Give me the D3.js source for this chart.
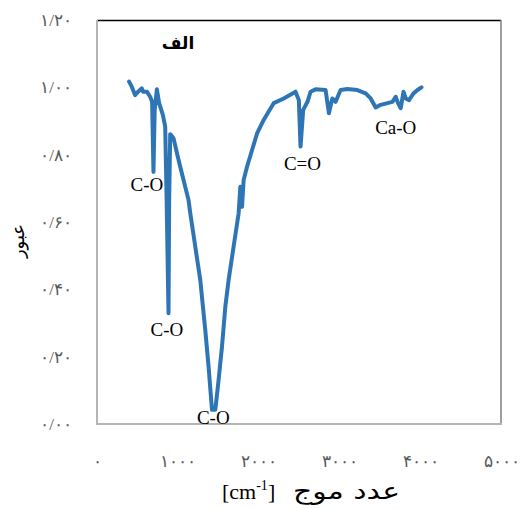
<!DOCTYPE html>
<html>
<head>
<meta charset="utf-8">
<script src="https://cdn.jsdelivr.net/npm/d3@7"></script>
<style>
html,body{margin:0;padding:0;background:#fff;}
svg{display:block;}
</style>
</head>
<body>
<svg id="chart" width="522" height="509"></svg>
<script>
// ---- data ----
const wavenumber = [397,430,471,509,555,571,617,658,682,699,714,741,769,815,844,862,885,893,906,947,989,1030,1071,1133,1154,1216,1278,1340,1381,1423,1464,1505,1547,1588,1629,1691,1753,1774,1795,1815,1857,1919,1981,2063,2125,2187,2311,2457,2498,2519,2552,2605,2643,2705,2829,2870,2912,2953,3015,3098,3222,3325,3387,3449,3511,3594,3656,3697,3726,3759,3793,3821,3862,3917,3966,4016];
const transmittance = [1.017,1.002,0.977,0.987,0.997,0.987,0.987,0.972,0.957,0.749,0.933,0.994,0.953,0.918,0.883,0.665,0.329,0.665,0.861,0.849,0.805,0.764,0.725,0.665,0.627,0.527,0.428,0.279,0.170,0.042,0.042,0.131,0.230,0.348,0.428,0.527,0.626,0.705,0.645,0.725,0.764,0.814,0.863,0.903,0.928,0.953,0.967,0.987,0.962,0.824,0.933,0.957,0.987,0.994,0.992,0.923,0.967,0.957,0.992,0.995,0.992,0.982,0.967,0.940,0.948,0.953,0.957,0.972,0.953,0.938,0.987,0.967,0.962,0.982,0.992,1.000];
const xTicks = [0,1000,2000,3000,4000,5000];
const yTicks = [0,0.2,0.4,0.6,0.8,1.0,1.2];
const annotationLabels = ["C-O","C-O","C-O","C=O","Ca-O"];
const annotationX = [617,865,1439,2543,3697];
const annotationY = [0.692,0.261,0.0,0.754,0.861];
const panelLabel = "الف";
const yTitle = "عبور";
const xTitleArabic = "عدد موج";

const toPersian = s => String(s).replace(/[0-9]/g, d => "۰۱۲۳۴۵۶۷۸۹"[+d]).replace(".", "/");

const svg = d3.select("#chart");
const L = 97, R = 501, T = 20, B = 424;
const x = d3.scaleLinear().domain([0,5000]).range([L,R]);
const y = d3.scaleLinear().domain([0,1.2]).range([B,T]);

// frame
svg.append("line").attr("x1",L).attr("x2",R).attr("y1",T+0.5).attr("y2",T+0.5).attr("stroke","#000").attr("stroke-width",1.5);
svg.append("line").attr("x1",R).attr("x2",R).attr("y1",T).attr("y2",B).attr("stroke","#7f7f7f").attr("stroke-width",1.5);
svg.append("line").attr("x1",L).attr("x2",L).attr("y1",T).attr("y2",B+1).attr("stroke","#b4b4b4").attr("stroke-width",2);
svg.append("line").attr("x1",L).attr("x2",R+1).attr("y1",B).attr("y2",B).attr("stroke","#b4b4b4").attr("stroke-width",2);

const tickFont = "'Liberation Serif','DejaVu Serif',serif";

// y axis
const yAxis = svg.append("g").attr("transform",`translate(${L},0)`)
  .call(d3.axisLeft(y).tickValues(yTicks).tickSize(0).tickPadding(25).tickFormat(d => toPersian(d3.format(".2f")(d))));
yAxis.select(".domain").remove();
yAxis.selectAll("text").attr("fill","#595959").style("font-family",tickFont).style("font-size","17px");

// x axis
const xAxis = svg.append("g").attr("transform",`translate(0,${B})`)
  .call(d3.axisBottom(x).tickValues(xTicks).tickSize(0).tickPadding(31).tickFormat(d => toPersian(d)));
xAxis.select(".domain").remove();
xAxis.selectAll("text").attr("fill","#595959").style("font-family",tickFont).style("font-size","17px");

// line
const line = d3.line().x((d,i)=>x(wavenumber[i])).y((d,i)=>y(transmittance[i]));
svg.append("path").datum(transmittance).attr("d",line).attr("fill","none")
  .attr("stroke","#2e75b6").attr("stroke-width",4).attr("stroke-linejoin","round").attr("stroke-linecap","round");

// annotations
svg.selectAll("text.ann").data(annotationLabels).join("text").attr("class","ann")
  .attr("x",(d,i)=>x(annotationX[i])).attr("y",(d,i)=>y(annotationY[i]))
  .attr("text-anchor","middle").style("font-family","'Liberation Serif',serif").style("font-size","19px").attr("fill","#000")
  .text(d=>d);

// panel label
svg.append("text").attr("x",178).attr("y",49).attr("text-anchor","middle")
  .style("font-family","'DejaVu Sans',sans-serif").style("font-size","17px").style("font-weight","600").text(panelLabel);

// y title
svg.append("text").attr("transform","translate(24,241) rotate(-90)").attr("text-anchor","middle")
  .style("font-family","'DejaVu Sans',sans-serif").style("font-size","18px").text(yTitle);

// x title: "[cm-1]" part (left) and Arabic part (right)
const xt = svg.append("text").attr("x",222).attr("y",499).attr("text-anchor","start")
  .style("font-family","'Liberation Serif',serif").style("font-size","22px");
xt.append("tspan").text("[cm");
xt.append("tspan").attr("dy",-9).style("font-size","14px").text("-1");
xt.append("tspan").attr("dy",9).text("]");
svg.append("text").attr("transform","translate(400,499) scale(1.3,1)").attr("text-anchor","end")
  .style("font-family","'DejaVu Sans',sans-serif").style("font-size","23px").text(xTitleArabic);
</script>
</body>
</html>
